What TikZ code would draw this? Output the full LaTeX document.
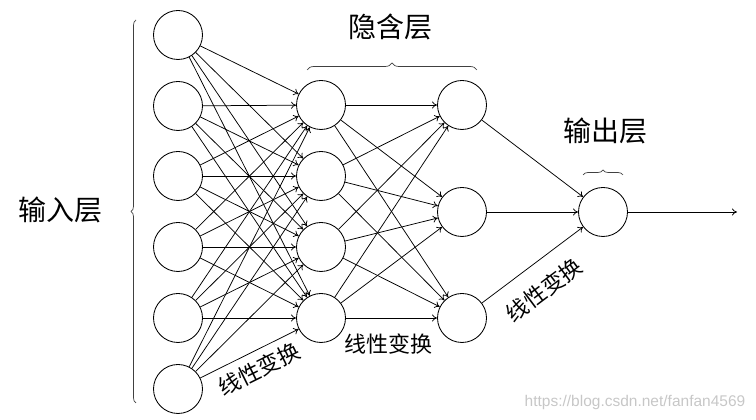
\documentclass[tikz,border=0pt]{standalone}
\usepackage{fontspec}
\newfontfamily\cjk{Noto Sans CJK SC}
\newfontfamily\wmfont{Liberation Sans}
\usetikzlibrary{decorations.pathreplacing,arrows.meta}
\begin{document}
\begin{tikzpicture}[x=1pt,y=1pt,
  neuron/.style={circle,draw,line width=0.85pt,minimum size=49pt,inner sep=0pt},
  conn/.style={-{To[length=5pt,width=7pt]},line width=0.75pt},
  layerlabel/.style={font=\cjk\fontsize{28}{28}\selectfont,inner sep=0pt},
  edgelabel/.style={font=\cjk\fontsize{22}{22}\selectfont,inner sep=0pt},
  bracestyle/.style={decorate,decoration={brace,amplitude=#1},line width=0.7pt,draw=black!75}]
\useasboundingbox (0,0) rectangle (756,420);
% input layer
\foreach \i/\y in {1/385,2/314,3/244,4/173,5/102,6/31}
  \node[neuron] (I\i) at (178,\y) {};
% hidden layer 1
\foreach \i/\y in {1/315,2/244,3/173,4/102}
  \node[neuron] (H\i) at (321,\y) {};
% hidden layer 2
\foreach \i/\y in {1/315,2/208,3/102}
  \node[neuron] (G\i) at (462,\y) {};
% output
\node[neuron] (O) at (603,208) {};
\coordinate (end) at (737,208);
% connections
\foreach \i in {1,...,6}
  \foreach \j in {1,...,4}
    \draw[conn] (I\i) -- (H\j);
\foreach \i in {1,...,4}
  \foreach \j in {1,...,3}
    \draw[conn] (H\i) -- (G\j);
\foreach \i in {1,...,3}
  \draw[conn] (G\i) -- (O);
\draw[conn] (O) -- (end);
% braces
\draw[bracestyle=5pt] (136,17) -- (136,400);
\draw[bracestyle=7pt] (307,350) -- (477,350);
\draw[bracestyle=5pt] (583,245) -- (623,245);
% labels
\node[layerlabel] (lin) at (61,210) {输入层};
\node[layerlabel] (lhid) at (390,393) {隐含层};
\node[layerlabel] (lout) at (605,289) {输出层};
\node[edgelabel,rotate=26.4] (t1) at (259,51) {线性变换};
\node[edgelabel] (t2) at (388,76) {线性变换};
\node[edgelabel,rotate=36.9] (t3) at (544,130) {线性变换};
\node[font=\wmfont\fontsize{15.5}{15.5}\selectfont,text=black!22,inner sep=0pt] (wm) at (635,18) {https://blog.csdn.net/fanfan4569};
\end{tikzpicture}
\end{document}
